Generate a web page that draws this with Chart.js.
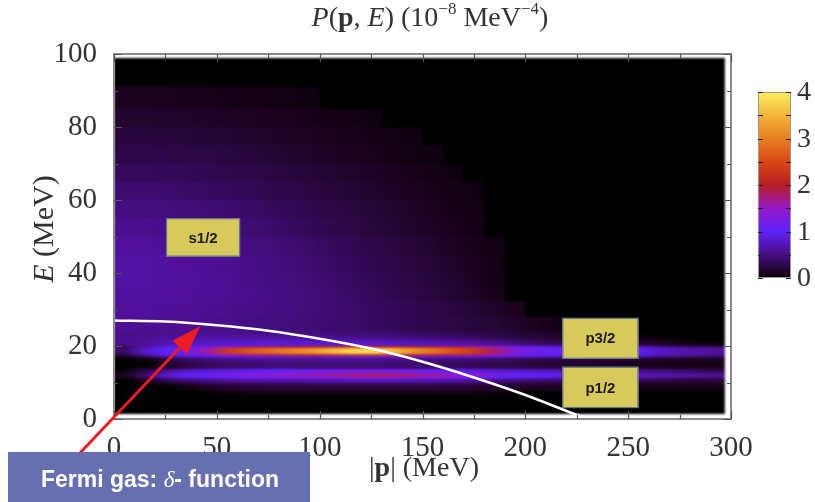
<!DOCTYPE html>
<html><head><meta charset="utf-8">
<script src="https://cdn.jsdelivr.net/npm/chart.js@4.4.0/dist/chart.umd.min.js"></script>
<style>html,body{margin:0;padding:0;background:#fff;overflow:hidden}#wrap{width:815px;height:502px;position:relative}</style>
</head><body><div id="wrap"><canvas id="c" width="815" height="502"></canvas></div>
<script>
// ---------------- DATA ----------------
const xTickValues = [0, 50, 100, 150, 200, 250, 300];
const yTickValues = [0, 20, 40, 60, 80, 100];
const colorbarTicks = [0, 1, 2, 3, 4];

// momentum bin edges |p| (MeV)
const momentumEdges = [0,10,20,30,40,50,60,70,80,90,100,110,120,130,140,150,160,170,180,190,200,210,220,230,240,250,260,270,280,290,297];
// energy bin edges E (MeV)
const energyEdges = [1.5,7,8,9,10,11,11.6,12.6,13.6,14.6,15.6,16.6,17.3,17.9,19.5,20.1,21,22,23,24,28,32,36,40,45,50,55,60,65,70,75,80,85,91,99];

// P(p,E) in 1e-8 MeV^-4, one row per energy bin, one value per momentum bin
const belowBands = [
  [0,0,0,0,0,0,0,0,0,0,0,0,0,0,0,0,0,0,0,0,0,0,0,0,0,0,0,0,0,0],
  [0,0,0,0,0.05,0.08,0.1,0.1,0.1,0.1,0.1,0.1,0.1,0.1,0.1,0.1,0.1,0.1,0.08,0.06,0.05,0.05,0.05,0.04,0.03,0.02,0.02,0.02,0.02,0.02],
  [0,0,0,0.05,0.1,0.15,0.18,0.2,0.2,0.2,0.2,0.2,0.2,0.2,0.2,0.2,0.18,0.16,0.14,0.12,0.1,0.1,0.1,0.08,0.07,0.06,0.05,0.05,0.05,0.05],
  [0,0,0.05,0.12,0.2,0.25,0.28,0.3,0.3,0.3,0.32,0.32,0.32,0.32,0.3,0.3,0.28,0.26,0.24,0.2,0.18,0.16,0.15,0.14,0.12,0.1,0.1,0.1,0.1,0.1]
];
const p12Band = [
  [0,0.1,0.25,0.4,0.5,0.55,0.6,0.6,0.62,0.65,0.68,0.7,0.7,0.7,0.68,0.65,0.6,0.55,0.5,0.45,0.4,0.38,0.35,0.32,0.3,0.28,0.25,0.22,0.2,0.2],
  [0.05,0.3,0.6,0.8,0.9,0.95,1.0,1.05,1.1,1.15,1.2,1.25,1.3,1.3,1.25,1.2,1.1,1.0,0.95,0.9,0.85,0.8,0.75,0.7,0.65,0.6,0.55,0.5,0.45,0.4],
  [0.1,0.4,0.8,1.0,1.1,1.2,1.3,1.4,1.5,1.55,1.6,1.7,1.75,1.75,1.7,1.6,1.5,1.4,1.2,1.1,1.0,0.95,0.9,0.85,0.8,0.75,0.7,0.65,0.6,0.55],
  [0.05,0.25,0.55,0.75,0.85,0.9,0.95,1.0,1.05,1.1,1.15,1.2,1.2,1.2,1.15,1.1,1.0,0.9,0.85,0.8,0.75,0.7,0.65,0.6,0.55,0.5,0.45,0.4,0.35,0.3]
];
const betweenBands = [
  [0,0.05,0.15,0.25,0.35,0.4,0.42,0.45,0.45,0.45,0.45,0.45,0.45,0.45,0.42,0.4,0.38,0.35,0.3,0.28,0.25,0.22,0.2,0.18,0.16,0.14,0.12,0.1,0.1,0.1],
  [0,0,0.1,0.25,0.35,0.4,0.42,0.45,0.45,0.45,0.45,0.45,0.45,0.42,0.4,0.38,0.35,0.32,0.3,0.25,0.2,0.18,0.15,0.12,0.1,0.1,0.08,0.08,0.08,0.08],
  [0,0.05,0.2,0.35,0.45,0.5,0.52,0.55,0.55,0.55,0.55,0.55,0.55,0.52,0.5,0.48,0.45,0.42,0.38,0.32,0.28,0.25,0.22,0.2,0.18,0.15,0.12,0.12,0.1,0.1]
];
const p32Band = [
  [0.1,0.3,0.55,0.7,0.8,0.85,0.9,0.9,0.9,0.9,0.92,0.95,0.95,0.92,0.9,0.88,0.85,0.82,0.8,0.75,0.7,0.7,0.68,0.65,0.6,0.55,0.45,0.4,0.35,0.3],
  [0.2,0.6,0.9,1.0,1.2,1.5,1.7,1.8,1.9,2.0,2.1,2.2,2.2,2.1,2.0,1.9,1.8,1.7,1.5,1.2,1.05,1.0,1.0,0.98,0.95,0.9,0.75,0.65,0.6,0.55],
  [0.4,0.8,1.0,1.1,1.6,2.3,2.6,2.8,3.0,3.2,3.5,3.8,3.8,3.6,3.2,2.9,2.6,2.3,1.8,1.3,1.15,1.1,1.05,1.0,1.0,0.95,0.8,0.7,0.65,0.6],
  [0.35,0.6,0.9,1.0,1.2,1.5,1.7,1.8,1.9,2.0,2.1,2.2,2.2,2.1,2.0,1.9,1.8,1.7,1.5,1.2,1.0,0.95,0.9,0.85,0.8,0.75,0.6,0.5,0.45,0.4]
];
const haloRows = [
  [0.55,0.6,0.7,0.75,0.8,0.82,0.85,0.85,0.85,0.85,0.85,0.85,0.82,0.8,0.78,0.75,0.7,0.65,0.6,0.5,0.4,0.35,0.3,0.28,0.25,0.2,0.15,0.08,0.05,0.05],
  [0.55,0.58,0.65,0.7,0.72,0.75,0.75,0.75,0.75,0.75,0.72,0.7,0.68,0.65,0.62,0.6,0.55,0.5,0.45,0.38,0.3,0.25,0.2,0.18,0.15,0.12,0.08,0.05,0,0],
  [0.55,0.56,0.6,0.62,0.62,0.62,0.62,0.6,0.6,0.58,0.55,0.52,0.5,0.48,0.45,0.42,0.38,0.35,0.3,0.25,0.2,0.16,0.12,0.1,0.08,0.06,0.04,0,0,0],
  [0.55,0.55,0.55,0.55,0.55,0.54,0.53,0.52,0.5,0.48,0.46,0.44,0.42,0.4,0.37,0.34,0.3,0.27,0.24,0.2,0.16,0.12,0.08,0.06,0.04,0,0,0,0,0]
];
const s12Rows = [
  [0.58,0.58,0.57,0.56,0.55,0.53,0.51,0.49,0.47,0.45,0.42,0.4,0.37,0.34,0.31,0.28,0.25,0.22,0.19,0.15,0.1,0.07,0,0,0,0,0,0,0,0],
  [0.6,0.6,0.59,0.58,0.57,0.55,0.53,0.51,0.49,0.46,0.43,0.4,0.37,0.34,0.31,0.27,0.23,0.19,0.15,0.1,0,0,0,0,0,0,0,0,0,0],
  [0.62,0.62,0.61,0.6,0.59,0.57,0.55,0.52,0.49,0.46,0.43,0.39,0.35,0.31,0.27,0.23,0.18,0.14,0.09,0,0,0,0,0,0,0,0,0,0,0],
  [0.63,0.63,0.62,0.61,0.59,0.57,0.54,0.51,0.48,0.45,0.41,0.37,0.33,0.29,0.25,0.21,0.17,0.12,0.08,0,0,0,0,0,0,0,0,0,0,0],
  [0.63,0.63,0.62,0.6,0.58,0.56,0.53,0.5,0.46,0.43,0.39,0.35,0.31,0.27,0.23,0.19,0.15,0.11,0.07,0,0,0,0,0,0,0,0,0,0,0],
  [0.6,0.6,0.59,0.57,0.55,0.53,0.5,0.47,0.43,0.4,0.36,0.32,0.28,0.24,0.2,0.16,0.12,0.09,0.06,0,0,0,0,0,0,0,0,0,0,0],
  [0.55,0.55,0.54,0.52,0.5,0.47,0.44,0.41,0.37,0.33,0.29,0.26,0.22,0.19,0.16,0.13,0.1,0.07,0,0,0,0,0,0,0,0,0,0,0,0],
  [0.49,0.49,0.48,0.46,0.44,0.42,0.39,0.36,0.33,0.29,0.26,0.23,0.2,0.17,0.14,0.11,0.08,0.06,0,0,0,0,0,0,0,0,0,0,0,0],
  [0.42,0.42,0.41,0.39,0.37,0.35,0.33,0.3,0.27,0.24,0.21,0.19,0.16,0.13,0.11,0.09,0.07,0.05,0,0,0,0,0,0,0,0,0,0,0,0],
  [0.35,0.35,0.34,0.33,0.31,0.29,0.27,0.25,0.22,0.2,0.18,0.15,0.13,0.11,0.09,0.07,0.05,0,0,0,0,0,0,0,0,0,0,0,0,0],
  [0.28,0.28,0.27,0.26,0.25,0.23,0.21,0.19,0.17,0.15,0.13,0.11,0.1,0.08,0.06,0.05,0,0,0,0,0,0,0,0,0,0,0,0,0,0],
  [0.22,0.22,0.21,0.2,0.19,0.18,0.16,0.15,0.13,0.12,0.1,0.09,0.08,0.06,0.05,0,0,0,0,0,0,0,0,0,0,0,0,0,0,0],
  [0.16,0.16,0.15,0.15,0.14,0.13,0.12,0.11,0.1,0.09,0.07,0.06,0.05,0,0,0,0,0,0,0,0,0,0,0,0,0,0,0,0,0],
  [0.1,0.1,0.1,0.09,0.09,0.08,0.07,0.07,0.06,0.05,0,0,0,0,0,0,0,0,0,0,0,0,0,0,0,0,0,0,0,0],
  [0,0,0,0,0,0,0,0,0,0,0,0,0,0,0,0,0,0,0,0,0,0,0,0,0,0,0,0,0,0]
];

// Fermi gas delta-function curve (white line)
const fermiMomentum = [0, 25, 50, 75, 100, 125, 150, 175, 200, 225, 230];
const fermiEnergy   = [27, 26.7, 25.7, 24.2, 22.0, 19.3, 15.7, 11.4, 6.6, 1.1, 0];

// text labels
const stateLabels = ['s1/2', 'p3/2', 'p1/2'];
const stateBoxP = [[25.3, 61.3], [218, 255], [218, 255]];
const stateBoxE = [[55, 44.5], [27.7, 16.5], [14.3, 3]];

// ---------------- rendering ----------------
const intensityRows = [].concat(belowBands, p12Band, betweenBands, p32Band, haloRows, s12Rows);

const cmap = [[0,[0,0,0]],[0.1,[28,2,30]],[0.3,[48,8,80]],[0.6,[80,16,154]],[1.0,[92,34,250]],
  [1.5,[150,24,200]],[2.0,[184,30,36]],[2.5,[214,72,20]],[3.0,[232,128,32]],[3.5,[242,180,56]],[4.0,[250,240,96]]];
function colorFor(v){
  v = Math.max(0, Math.min(4, v||0));
  for (let i=1;i<cmap.length;i++){
    if (v <= cmap[i][0]){
      const a=cmap[i-1], b=cmap[i], t=(v-a[0])/(b[0]-a[0]);
      const c=a[1].map((q,k)=>Math.round(q+(b[1][k]-q)*t));
      return 'rgb('+c.join(',')+')';
    }
  }
  return 'rgb(250,240,96)';
}

const SERIF = '"Liberation Serif", "Times New Roman", serif';
const SANS = '"Liberation Sans", Arial, sans-serif';

function drawRich(ctx, segs, cx, cy, size, rotate){
  ctx.save();
  ctx.translate(cx, cy);
  if (rotate) ctx.rotate(rotate);
  const fontOf = s => (s.i?'italic ':'') + (s.b?'bold ':'') + Math.round(s.sup?size*0.62:size) + 'px ' + SERIF;
  let total = 0;
  segs.forEach(s=>{ ctx.font = fontOf(s); s.w = ctx.measureText(s.t).width; total += s.w; });
  let x = -total/2;
  ctx.fillStyle = '#333';
  ctx.textBaseline = 'alphabetic';
  ctx.textAlign = 'left';
  segs.forEach(s=>{ ctx.font = fontOf(s); ctx.fillText(s.t, x, s.sup ? size*0.35 - size*0.42 : size*0.35); x += s.w; });
  ctx.restore();
}

const heatmapPlugin = {
  id: 'heatmap',
  beforeDatasetsDraw(chart){
    const {ctx, chartArea:a, scales:{x, y}} = chart;
    const off = document.createElement('canvas');
    off.width = chart.width; off.height = chart.height;
    const o = off.getContext('2d');
    const xl = x.getPixelForValue(momentumEdges[0]);
    const xr = x.getPixelForValue(momentumEdges[momentumEdges.length-1]);
    const span = xr - xl;
    for (let r=0; r<energyEdges.length-1; r++){
      const y0 = Math.round(y.getPixelForValue(energyEdges[r+1]));
      const y1 = Math.round(y.getPixelForValue(energyEdges[r]));
      const row = intensityRows[r] || [];
      const n = momentumEdges.length-1;
      const g = o.createLinearGradient(xl, 0, xr, 0);
      const add = (px, col) => g.addColorStop(Math.max(0, Math.min(1, (px-xl)/span)), col);
      for (let c=0; c<n; c++){
        const v = row[c]||0, vn = row[c+1]||0;
        const cx = x.getPixelForValue((momentumEdges[c]+momentumEdges[c+1])/2);
        const ex = x.getPixelForValue(momentumEdges[c+1]);
        add(cx, colorFor(v));
        if (c < n-1){
          if (v>0 && vn===0){ add(ex-0.5, colorFor(v)); add(ex, colorFor(0)); }
          else if (v===0 && vn>0){ add(ex, colorFor(0)); add(ex+0.5, colorFor(vn)); }
        }
      }
      o.fillStyle = g;
      o.fillRect(xl, y0, span, y1-y0);
    }
    ctx.save();
    ctx.beginPath(); ctx.rect(a.left, a.top, a.right-a.left, a.bottom-a.top); ctx.clip();
    ctx.filter = 'blur(1px)';
    ctx.drawImage(off, 0, 0);
    ctx.filter = 'none';
    ctx.restore();
  },
  afterDatasetsDraw(chart){
    const {ctx, chartArea:a, scales:{x, y}} = chart;
    ctx.save();
    // state label boxes
    stateLabels.forEach((lab,i)=>{
      const x0=x.getPixelForValue(stateBoxP[i][0]), x1=x.getPixelForValue(stateBoxP[i][1]);
      const y0=y.getPixelForValue(stateBoxE[i][0]), y1=y.getPixelForValue(stateBoxE[i][1]);
      ctx.fillStyle='#d8c95c'; ctx.fillRect(x0,y0,x1-x0,y1-y0);
      ctx.strokeStyle='#5b7791'; ctx.lineWidth=1.2; ctx.strokeRect(x0+0.5,y0+0.5,x1-x0-1,y1-y0-1);
      ctx.fillStyle='#1e1e1e'; ctx.font='bold 15px '+SANS; ctx.textAlign='center'; ctx.textBaseline='middle';
      ctx.fillText(lab,(x0+x1)/2,(y0+y1)/2+1);
    });
    // frame
    ctx.strokeStyle='#8c8c8c'; ctx.lineWidth=2;
    ctx.strokeRect(a.left, a.top, a.right-a.left, a.bottom-a.top);
    // inward ticks
    ctx.strokeStyle='#555'; ctx.lineWidth=1.2;
    ctx.beginPath();
    for (let v=0; v<=300; v+=25){
      const px=Math.round(x.getPixelForValue(v))+0.5, len = v%50===0?8:4;
      ctx.moveTo(px,a.bottom); ctx.lineTo(px,a.bottom-len);
      ctx.moveTo(px,a.top); ctx.lineTo(px,a.top+len);
    }
    for (let v=0; v<=100; v+=10){
      const py=Math.round(y.getPixelForValue(v))+0.5, len = v%20===0?8:4;
      ctx.moveTo(a.left,py); ctx.lineTo(a.left+len,py);
      ctx.moveTo(a.right,py); ctx.lineTo(a.right-len,py);
    }
    ctx.stroke();
    ctx.restore();
  },
  afterDraw(chart){
    const {ctx} = chart;
    ctx.save();
    // title
    drawRich(ctx,[{t:'P',i:1},{t:'('},{t:'p',b:1},{t:', '},{t:'E',i:1},{t:') (10'},{t:'\u22128',sup:1},{t:' MeV'},{t:'\u22124',sup:1},{t:')'}],430,16,28);
    // x title
    drawRich(ctx,[{t:'|'},{t:'p',b:1},{t:'| (MeV)'}],424,466,28);
    // y title
    drawRich(ctx,[{t:'E',i:1},{t:' (MeV)'}],42,229,30,-Math.PI/2);
    // colorbar
    const cbL=758, cbR=791, cbT=92, cbB=278;
    const g=ctx.createLinearGradient(0,cbB,0,cbT);
    cmap.forEach(s=>g.addColorStop(s[0]/4,'rgb('+s[1].join(',')+')'));
    ctx.fillStyle=g; ctx.fillRect(cbL,cbT,cbR-cbL,cbB-cbT);
    ctx.strokeStyle='#999'; ctx.lineWidth=1; ctx.strokeRect(cbL+0.5,cbT+0.5,cbR-cbL-1,cbB-cbT-1);
    ctx.strokeStyle='#222'; ctx.lineWidth=1.2; ctx.beginPath();
    for (let v=0; v<=4; v+=0.5){
      const py=Math.round(cbB-(v/4)*(cbB-cbT))+0.5;
      ctx.moveTo(cbL,py); ctx.lineTo(cbL+5,py); ctx.moveTo(cbR,py); ctx.lineTo(cbR-5,py);
    }
    ctx.stroke();
    ctx.fillStyle='#333'; ctx.font='28px '+SERIF; ctx.textAlign='left'; ctx.textBaseline='middle';
    colorbarTicks.forEach(v=>ctx.fillText(String(v),797,cbB-(v/4)*(cbB-cbT)+1));
    // red arrow
    const {x, y} = chart.scales;
    const tx=x.getPixelForValue(42), ty=y.getPixelForValue(25.5);
    const sx=80, sy=453;
    const ang=Math.atan2(ty-sy,tx-sx), hl=30, hw=10;
    const bx=tx-hl*Math.cos(ang), by=ty-hl*Math.sin(ang);
    ctx.strokeStyle='#ec1c24'; ctx.lineWidth=3; ctx.beginPath(); ctx.moveTo(sx,sy); ctx.lineTo(bx,by); ctx.stroke();
    ctx.fillStyle='#ec1c24'; ctx.beginPath(); ctx.moveTo(tx,ty);
    ctx.lineTo(bx+hw*Math.sin(ang), by-hw*Math.cos(ang));
    ctx.lineTo(bx-hw*Math.sin(ang), by+hw*Math.cos(ang)); ctx.closePath(); ctx.fill();
    // Fermi gas box
    ctx.fillStyle='#6670b0'; ctx.fillRect(8,452,302,52);
    ctx.fillStyle='#fff'; ctx.textBaseline='middle'; ctx.textAlign='left';
    const parts=[['Fermi gas: ','bold 23px '+SANS],['\u03b4','italic 23px '+SERIF],['- function','bold 23px '+SANS]];
    let w=0; parts.forEach(p=>{ctx.font=p[1]; w+=ctx.measureText(p[0]).width;});
    let px=160-w/2; parts.forEach(p=>{ctx.font=p[1]; ctx.fillText(p[0],px,481); px+=ctx.measureText(p[0]).width;});
    ctx.restore();
  }
};

new Chart(document.getElementById('c'), {
  type: 'scatter',
  data: { datasets: [{
    label: 'Fermi gas',
    data: fermiMomentum.map((p,i)=>({x:p, y:fermiEnergy[i]})),
    showLine: true, borderColor: '#ffffff', borderWidth: 2.6, pointRadius: 0,
    cubicInterpolationMode: 'monotone', fill: false
  }]},
  options: {
    responsive: false, animation: false, devicePixelRatio: 1,
    layout: { padding: { top: 54, right: 84, left: 0, bottom: 0 } },
    plugins: { legend: { display: false }, tooltip: { enabled: false }, title: { display: false } },
    scales: {
      x: { type: 'linear', min: 0, max: 300,
        afterFit: s => { s.height = 83; },
        afterBuildTicks: s => { s.ticks = xTickValues.map(v=>({value:v})); },
        grid: { display: false }, border: { display: false },
        ticks: { color: '#333', padding: 4, font: { family: SERIF, size: 29 }, maxRotation: 0 } },
      y: { type: 'linear', min: 0, max: 100,
        afterFit: s => { s.width = 114; },
        afterBuildTicks: s => { s.ticks = yTickValues.map(v=>({value:v})); },
        grid: { display: false }, border: { display: false },
        ticks: { color: '#333', padding: 9, font: { family: SERIF, size: 29 } } }
    }
  },
  plugins: [heatmapPlugin]
});
</script></body></html>
